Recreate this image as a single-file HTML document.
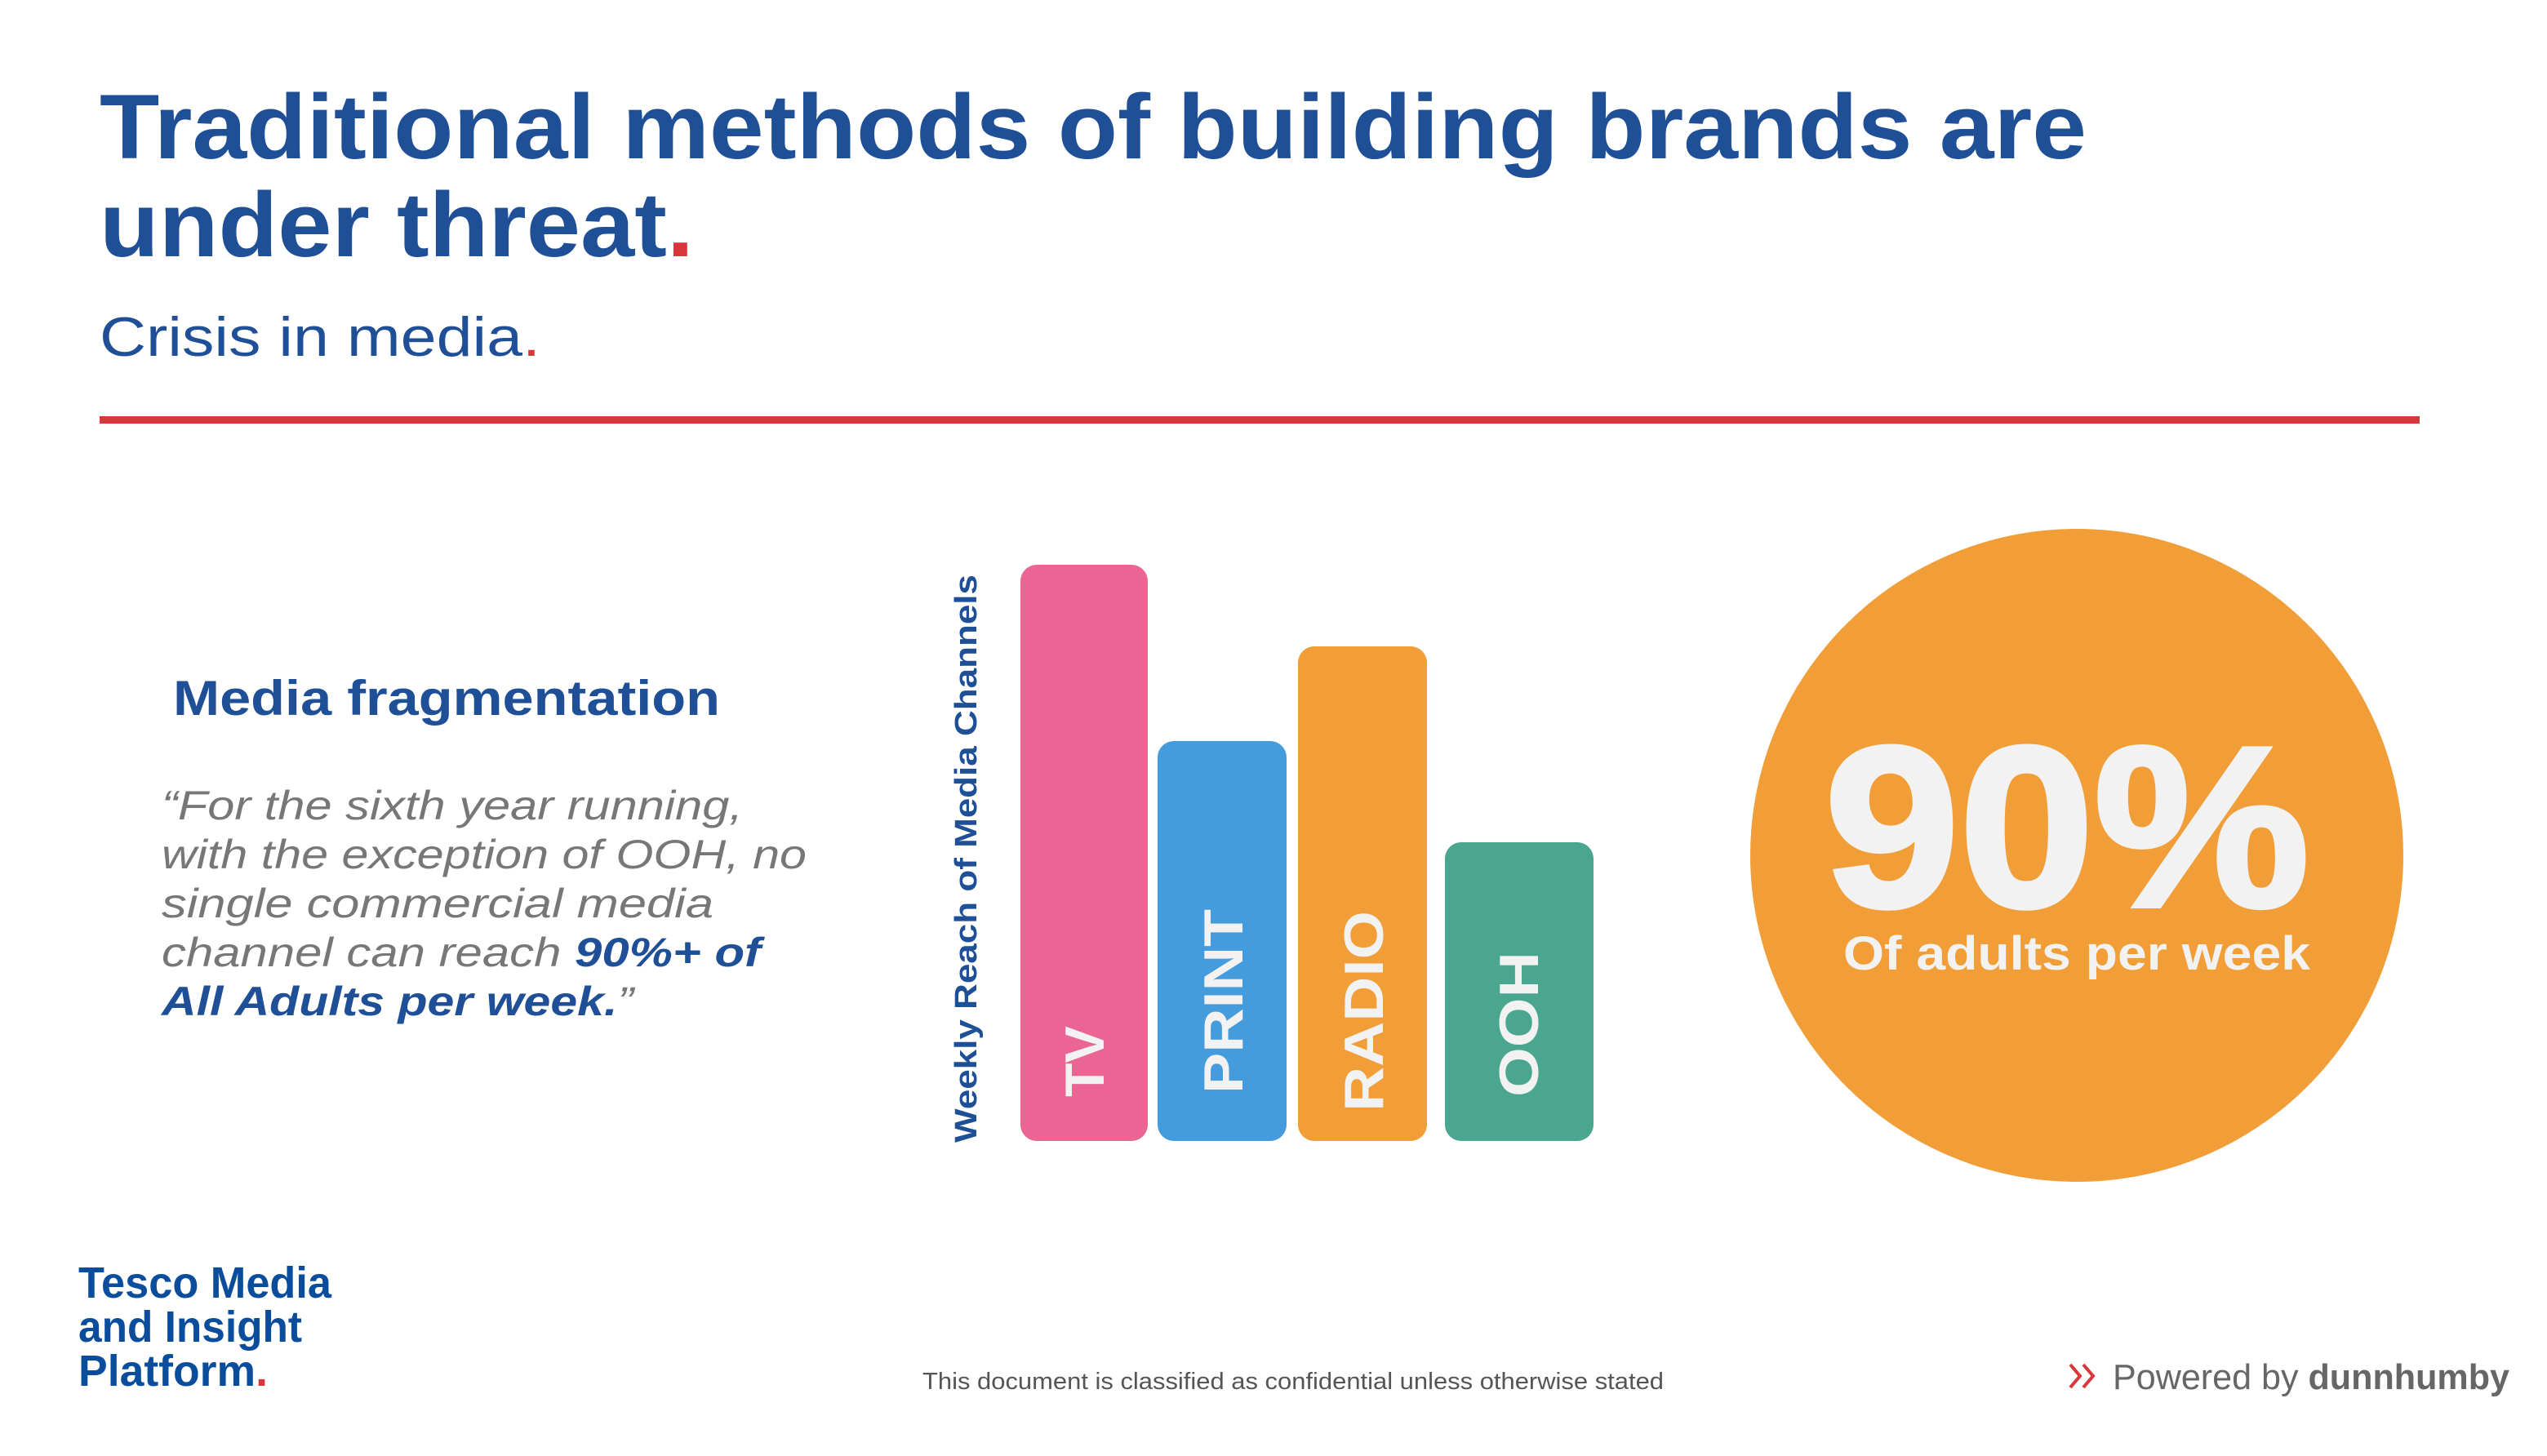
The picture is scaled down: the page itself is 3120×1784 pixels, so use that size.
<!DOCTYPE html>
<html><head><meta charset="utf-8"><style>
html,body{margin:0;padding:0;background:#fff;}
svg{display:block;}
text{font-family:"Liberation Sans",Arial,sans-serif;}
</style></head><body>
<svg width="3120" height="1784" viewBox="0 0 3120 1784" xmlns="http://www.w3.org/2000/svg">
<rect width="3120" height="1784" fill="#fff"/>
<text x="122" y="194" font-size="112" font-weight="bold" fill="#1f4f96" textLength="2434" lengthAdjust="spacingAndGlyphs">Traditional methods of building brands are</text>
<text x="122" y="314" font-size="112" font-weight="bold" fill="#1f4f96" textLength="728" lengthAdjust="spacingAndGlyphs">under threat<tspan fill="#d9363b">.</tspan></text>
<text x="122" y="436" font-size="68" fill="#1f4f96" textLength="540" lengthAdjust="spacingAndGlyphs">Crisis in media<tspan fill="#d9363b">.</tspan></text>
<rect x="122" y="510" width="2842" height="9" fill="#d9363b"/>

<text x="212" y="876" font-size="60" font-weight="bold" fill="#1f4f96" textLength="670" lengthAdjust="spacingAndGlyphs">Media fragmentation</text>
<g font-size="50" font-style="italic" fill="#777">
<text x="198" y="1004" textLength="712" lengthAdjust="spacingAndGlyphs">“For the sixth year running,</text>
<text x="198" y="1064" textLength="790" lengthAdjust="spacingAndGlyphs">with the exception of OOH, no</text>
<text x="198" y="1124" textLength="676" lengthAdjust="spacingAndGlyphs">single commercial media</text>
<text x="198" y="1184" textLength="734" lengthAdjust="spacingAndGlyphs">channel can reach <tspan font-weight="bold" fill="#1f4f96">90%+ of</tspan></text>
<text x="198" y="1244" textLength="578" lengthAdjust="spacingAndGlyphs"><tspan font-weight="bold" fill="#1f4f96">All Adults per week.</tspan>”</text>
</g>

<text transform="translate(1196,1400) rotate(-90)" font-size="38" font-weight="bold" fill="#1f4f96" textLength="696" lengthAdjust="spacingAndGlyphs">Weekly Reach of Media Channels</text>

<rect x="1250" y="692" width="156" height="706" rx="20" fill="#ea6594"/>
<rect x="1418" y="908" width="158" height="490" rx="20" fill="#449cdc"/>
<rect x="1590" y="792" width="158" height="606" rx="20" fill="#f19e38"/>
<rect x="1770" y="1032" width="182" height="366" rx="20" fill="#4aa68e"/>
<g font-size="68" font-weight="bold" fill="#f2f2f2">
<text transform="translate(1352,1344) rotate(-90)">TV</text>
<text transform="translate(1522,1340) rotate(-90)" textLength="226" lengthAdjust="spacingAndGlyphs">PRINT</text>
<text transform="translate(1694,1362) rotate(-90)" textLength="246" lengthAdjust="spacingAndGlyphs">RADIO</text>
<text transform="translate(1884,1344) rotate(-90)" textLength="178" lengthAdjust="spacingAndGlyphs">OOH</text>
</g>

<circle cx="2544" cy="1048" r="400" fill="#f19e38"/>
<text x="2532" y="1110" font-size="280" font-weight="bold" fill="#f2f2f2" text-anchor="middle" stroke="#f2f2f2" stroke-width="6" textLength="594" lengthAdjust="spacingAndGlyphs">90%</text>
<text x="2544" y="1188" font-size="58" font-weight="bold" fill="#f2f2f2" text-anchor="middle" textLength="572" lengthAdjust="spacingAndGlyphs">Of adults per week</text>

<g font-size="54" font-weight="bold" fill="#0a4d9c">
<text x="96" y="1590" textLength="310" lengthAdjust="spacingAndGlyphs">Tesco Media</text>
<text x="96" y="1644" textLength="274" lengthAdjust="spacingAndGlyphs">and Insight</text>
<text x="96" y="1698" textLength="232" lengthAdjust="spacingAndGlyphs">Platform<tspan fill="#d9363b">.</tspan></text>
</g>
<text x="1130" y="1702" font-size="29" fill="#555" textLength="908" lengthAdjust="spacingAndGlyphs">This document is classified as confidential unless otherwise stated</text>
<path d="M2536 1672 l12 14 l-12 14 M2552 1672 l12 14 l-12 14" stroke="#d9363b" stroke-width="4" fill="none"/>
<text x="2588" y="1702" font-size="44" fill="#666" textLength="486" lengthAdjust="spacingAndGlyphs">Powered by <tspan font-weight="bold">dunnhumby</tspan></text>
</svg>
</body></html>
